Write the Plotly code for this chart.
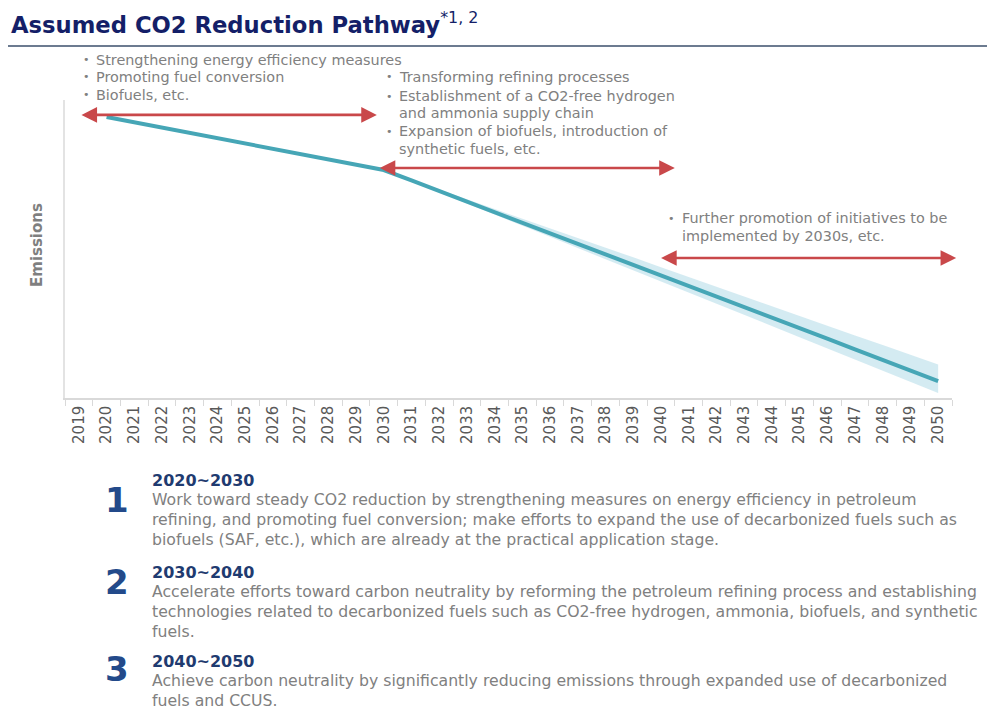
import plotly.graph_objects as go

# ---------------- data ----------------
years = [str(y) for y in range(2019, 2051)]
line_years = [str(y) for y in range(2020, 2051)]
emissions = [94.3, 92.5, 90.7, 88.9, 87.2, 85.4, 83.6, 81.8, 80.1, 78.3,
             76.5, 73.0, 69.4, 65.9, 62.3, 58.8, 55.3, 51.7, 48.2, 44.7,
             41.1, 37.6, 34.0, 30.5, 27.0, 23.4, 19.9, 16.3, 12.8, 9.3, 5.7]
band_years = [str(y) for y in range(2030, 2051)]
band_upper = [76.5, 73.3, 69.9, 66.7, 63.4, 60.2, 57.0, 53.6, 50.4, 47.2,
              43.9, 40.6, 37.3, 34.1, 30.8, 27.5, 24.3, 21.0, 17.8, 14.5, 11.2]
band_lower = [76.5, 72.8, 69.0, 65.3, 61.5, 57.8, 54.1, 50.3, 46.6, 42.9,
              39.1, 35.4, 31.6, 27.9, 24.2, 20.4, 16.7, 12.9, 9.2, 5.5, 1.7]

# arrows: (start position, end position, level) in category-index units
arrow_spans = [(0.04, 10.75, 95.0), (10.8, 21.5, 77.2), (20.95, 31.65, 47.0)]

phase_notes = [
    ["Strengthening energy efficiency measures", "Promoting fuel conversion", "Biofuels, etc."],
    ["Transforming refining processes",
     "Establishment of a CO2-free hydrogen|and ammonia supply chain",
     "Expansion of biofuels, introduction of|synthetic fuels, etc."],
    ["Further promotion of initiatives to be|implemented by 2030s, etc."],
]

phase_nums = ["1", "2", "3"]
phase_heads = ["2020~2030", "2030~2040", "2040~2050"]
phase_texts = [
    ["Work toward steady CO2 reduction by strengthening measures on energy efficiency in petroleum",
     "refining, and promoting fuel conversion; make efforts to expand the use of decarbonized fuels such as",
     "biofuels (SAF, etc.), which are already at the practical application stage."],
    ["Accelerate efforts toward carbon neutrality by reforming the petroleum refining process and establishing",
     "technologies related to decarbonized fuels such as CO2-free hydrogen, ammonia, biofuels, and synthetic",
     "fuels."],
    ["Achieve carbon neutrality by significantly reducing emissions through expanded use of decarbonized",
     "fuels and CCUS."],
]

# ---------------- layout geometry ----------------
O = 8  # page body margin
W, H = 995 - O, 710 - O
L, R, T, B = 65, 952, 100, 398   # page pixel coords of plot area
PW, PH = R - L, B - T
FONT = "DejaVu Sans"
GRAY = "#808080"
NAVY = "#1f3b70"


def px(x):
    return (x - L) / PW


def py(y):
    return (B - y) / PH


fig = go.Figure()

# band
fig.add_trace(go.Scatter(x=band_years, y=band_upper, mode="lines",
                         line=dict(width=0, color="rgba(0,0,0,0)"),
                         hoverinfo="skip", showlegend=False))
fig.add_trace(go.Scatter(x=band_years, y=band_lower, mode="lines",
                         line=dict(width=0, color="rgba(0,0,0,0)"),
                         fill="tonexty", fillcolor="rgba(170,215,230,0.5)",
                         hoverinfo="skip", showlegend=False))
# main line
fig.add_trace(go.Scatter(x=line_years, y=emissions, mode="lines",
                         line=dict(color="#46a6b6", width=4),
                         showlegend=False))

annotations = []

# arrows
for (x0, x1, lvl) in arrow_spans:
    annotations.append(dict(x=x1, y=lvl, ax=x0, ay=lvl, xref="x", yref="y",
                            axref="x", ayref="y", text="", showarrow=True,
                            arrowside="end+start", arrowhead=2, arrowsize=1.2,
                            arrowwidth=2.6, arrowcolor="#c9484a",
                            standoff=0, startstandoff=0))


def add_text(x, y, text, size, color, bold=False, xanchor="left", font=FONT):
    t = f"<b>{text}</b>" if bold else text
    annotations.append(dict(x=px(x), y=py(y), xref="paper", yref="paper",
                            text=t, showarrow=False, xanchor=xanchor,
                            yanchor="middle", align="left", borderpad=0,
                            font=dict(family=font, size=size, color=color)))


# phase notes above chart
note_pos = [(82, 95, [60, 77, 95]), (385, 398, [77, 96, 113, 131, 149]), (667, 681, [218, 236])]
for notes, (bx, tx, ys) in zip(phase_notes, note_pos):
    i = 0
    for note in notes:
        parts = note.split("|")
        add_text(bx, ys[i], "•", 11, GRAY, xanchor="left")
        for p in parts:
            add_text(tx, ys[i], p, 14.4, GRAY)
            i += 1

# title
annotations.append(dict(x=px(9), y=py(23), xref="paper", yref="paper",
                        text="<b>Assumed CO2 Reduction Pathway</b><sup>*1, 2</sup>",
                        showarrow=False, xanchor="left", yanchor="middle",
                        font=dict(family=FONT, size=22.7, color="#141f68")))

# y-axis title
annotations.append(dict(x=px(37), y=py(245), xref="paper", yref="paper",
                        text="<b>Emissions</b>", textangle=-90, showarrow=False,
                        xanchor="center", yanchor="middle",
                        font=dict(family=FONT, size=15, color="#7f7f7f")))

# bottom phase descriptions
num_y = [500, 582, 669]
head_y = [480, 572, 661]
for num, head, lines, ny, hy in zip(phase_nums, phase_heads, phase_texts, num_y, head_y):
    annotations.append(dict(x=px(117), y=py(ny), xref="paper", yref="paper",
                            text=f"<b>{num}</b>", showarrow=False,
                            xanchor="center", yanchor="middle",
                            font=dict(family=FONT, size=34, color="#234a8a")))
    add_text(151, hy, head, 16, NAVY, bold=True)
    for k, ln in enumerate(lines):
        add_text(151, hy + 19.8 * (k + 1), ln, 15.7, GRAY)

shapes = [dict(type="line", xref="paper", yref="paper", x0=px(8), x1=px(1010),
               y0=py(46), y1=py(46), line=dict(color="#3b4f6b", width=1.5))]

fig.update_layout(
    width=W, height=H,
    margin=dict(l=L - O, r=995 - R, t=T - O, b=710 - B),
    paper_bgcolor="white", plot_bgcolor="white",
    annotations=annotations, shapes=shapes,
    showlegend=False,
    xaxis=dict(type="category", categoryorder="array", categoryarray=years,
               range=[-0.5, len(years) - 0.5], tickson="boundaries",
               ticks="outside", ticklen=6, tickcolor="#d9d9d9",
               showline=True, linecolor="#d9d9d9", linewidth=1.5,
               showgrid=False, zeroline=False, tickangle=-90,
               tickfont=dict(family=FONT, size=15, color="#595959")),
    yaxis=dict(range=[0, 100], showline=True, linecolor="#e3e3e3", linewidth=1.5,
               showticklabels=False, showgrid=False, zeroline=False, ticks=""),
)

fig.write_html("out.html")
